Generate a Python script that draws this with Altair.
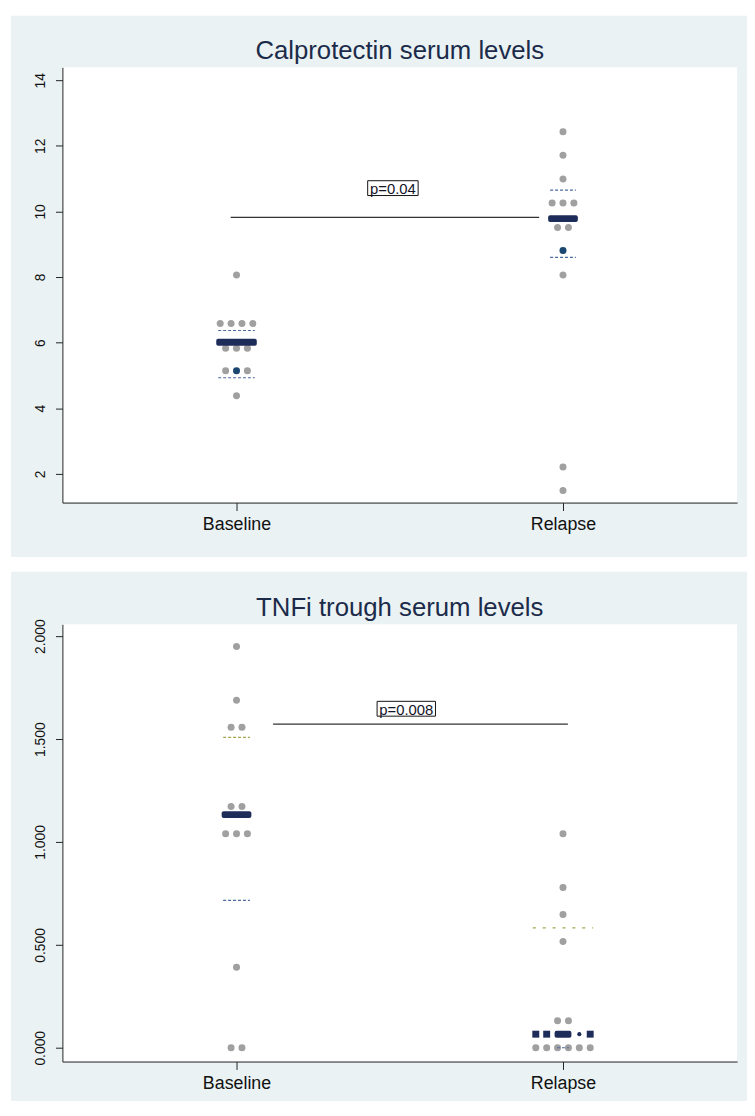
import altair as alt
import pandas as pd

GROUPS = ["Baseline", "Relapse"]

# ---------------- Calprotectin serum levels (panel 1) ----------------
cal_base_vals = [8.06, 6.58, 6.58, 6.58, 6.58, 5.83, 5.83, 5.83, 5.14, 5.14, 5.14, 4.38]
cal_base_slot = [0, -1.5, -0.5, 0.5, 1.5, -1, 0, 1, -1, 0, 1, 0]
cal_base_kind = ["grey"] * 9 + ["navy"] + ["grey"] * 2
cal_rel_vals = [12.43, 11.71, 10.99, 10.26, 10.26, 10.26, 9.51, 9.51, 8.81, 8.06, 2.21, 1.49]
cal_rel_slot = [0, 0, 0, -1, 0, 1, -0.5, 0.5, 0, 0, 0, 0]
cal_rel_kind = ["grey"] * 8 + ["navy"] + ["grey"] * 3
cal_medians = [6.01, 9.78]
cal_q_upper = [6.37, 10.65]
cal_q_lower = [4.93, 8.60]
cal_p_text = "p=0.04"
cal_p_line = [0.982, 1.927, 9.82]    # from, to, level
cal_p_label = [1.479, 10.71]

# ---------------- TNFi trough serum levels (panel 2) ----------------
tnf_base_vals = [1.950, 1.689, 1.558, 1.558, 1.172, 1.172, 1.040, 1.040, 1.040, 0.391, 0.0, 0.0]
tnf_base_slot = [0, 0, -0.5, 0.5, -0.5, 0.5, -1, 0, 1, 0, -0.5, 0.5]
tnf_base_kind = ["grey"] * 12
tnf_rel_vals = [1.040, 0.779, 0.648, 0.516, 0.131, 0.131, 0.0, 0.0, 0.0, 0.0, 0.0, 0.0]
tnf_rel_slot = [0, 0, 0, 0, -0.5, 0.5, -2.5, -1.5, -0.5, 0.5, 1.5, 2.5]
tnf_rel_kind = ["grey"] * 12
tnf_med_row_vals = [0.066, 0.066, 0.066]
tnf_med_row_slot = [-2.5, -1.5, 2.5]
tnf_med_dot = [0.066, 1.5]
tnf_medians = [1.133, 0.066]
tnf_q_upper = [1.508, 0.583]
tnf_q_lower = [0.716, 0.0]
tnf_p_text = "p=0.008"
tnf_p_line = [1.112, 2.015, 1.573]
tnf_p_label = [1.52, 1.6475]

# ---------------- styles ----------------
BG = "#eaf2f3"
GREY = "#a0a0a0"
NAVY = "#1a476f"
DKNAVY = "#1e2c5a"
BLUE_DASH = "#4a6aa0"
OLIVE_DASH = "#a3a64e"
TITLE_C = "#1c2b4a"
FONT = "Liberation Sans"
W = 682
SLOT = 1.0 / 30.0
XS = alt.Scale(domain=[0.4667, 2.5333], nice=False, zero=False)

label_expr = "['" + GROUPS[0] + "','" + GROUPS[1] + "'][datum.value - 1]"


def points_df(bv, bs, bk, rv, rs, rk):
    g = [1] * len(bv) + [2] * len(rv)
    return pd.DataFrame({"g": g, "v": bv + rv, "slot": bs + rs, "kind": bk + rk})


def panel(title, pts, ydom, yticks, yfmt, height, top_ext, bot_ext, medians, med_w,
          qup, qup_w, qup_c, qlo, qlo_w, qlo_c, p_text, p_line, p_label, box_w, extra=None):
    ys = alt.Scale(domain=ydom, nice=False, zero=False)
    xaxis = alt.Axis(values=[1, 2], labelExpr=label_expr, title=None, grid=False,
                     tickSize=8, tickColor="#222", domainColor="#222", labelColor="#111",
                     labelFont=FONT, labelFontSize=18, labelPadding=5, zindex=1)
    yaxis = alt.Axis(values=yticks, format=yfmt, title=None, grid=False, tickSize=7,
                     tickColor="#222", domainColor="#222", labelColor="#111",
                     labelFont=FONT, labelFontSize=14, labelAngle=270, labelAlign="center",
                     labelBaseline="bottom", labelPadding=8, zindex=1)

    def X(f):
        return alt.X(f, scale=XS, axis=xaxis)

    def Y(f):
        return alt.Y(f, scale=ys, axis=yaxis)

    one = pd.DataFrame({"k": [0]})
    bg = alt.Chart(one).mark_rect(color=BG).encode(
        x=alt.value(-52), x2=alt.value(W + 10), y=alt.value(-top_ext),
        y2=alt.value(height + bot_ext))
    plot_bg = alt.Chart(one).mark_rect(color="white").encode(
        x=alt.value(0), x2=alt.value(W), y=alt.value(0), y2=alt.value(height))
    ttl = alt.Chart(one).mark_text(text=title, font=FONT, fontSize=26, color=TITLE_C,
                                   align="center", baseline="alphabetic").encode(
        x=alt.value(W / 2), y=alt.value(-8))

    dots = alt.Chart(pts).transform_calculate(
        xpos="datum.g + datum.slot * " + str(SLOT)
    ).mark_circle(size=50, opacity=1).encode(
        x=X("xpos:Q"),
        y=Y("v:Q"),
        color=alt.Color("kind:N", scale=alt.Scale(domain=["grey", "navy"], range=[GREY, NAVY]),
                        legend=None),
    )

    layers = [bg, plot_bg, ttl, dots]

    if extra is not None:
        layers += extra(X, Y)

    def hline(g, v, w, color, dash):
        d = pd.DataFrame({"g": [g], "v": [v]})
        return alt.Chart(d).mark_point(shape="M-1,0L1,0", filled=False, color=color,
                                       strokeWidth=1.2, strokeDash=dash, size=w * w,
                                       opacity=1).encode(x=X("g:Q"), y=Y("v:Q"))

    for i in range(2):
        udash = [3, 7] if (i == 1 and qup_c == OLIVE_DASH) else [3, 2]
        layers.append(hline(i + 1, qup[i], qup_w[i], qup_c, udash))
        layers.append(hline(i + 1, qlo[i], qlo_w[i], qlo_c, [3, 2]))

    for i in range(2):
        d = pd.DataFrame({"g": [i + 1], "v": [medians[i]]})
        layers.append(alt.Chart(d).mark_tick(orient="horizontal", thickness=7, size=med_w[i],
                                             color=DKNAVY, cornerRadius=2, opacity=1).encode(
            x=X("g:Q"), y=Y("v:Q")))

    pl = pd.DataFrame({"x1": [p_line[0]], "x2": [p_line[1]], "y": [p_line[2]]})
    layers.append(alt.Chart(pl).mark_rule(color="#333", strokeWidth=1.2).encode(
        x=X("x1:Q"), x2="x2:Q", y=Y("y:Q")))

    lab = pd.DataFrame({"x": [p_label[0]], "y": [p_label[1]], "t": [p_text]})
    h = 15.0 / box_w
    box_path = "M-1,-{h}L1,-{h}L1,{h}L-1,{h}Z".format(h=round(h, 4))
    layers.append(alt.Chart(lab).mark_point(shape=box_path, filled=False, color="#111",
                                            strokeWidth=1, size=box_w * box_w, opacity=1).encode(
        x=X("x:Q"), y=Y("y:Q")))
    layers.append(alt.Chart(lab).mark_text(font=FONT, fontSize=15, color="#15152a",
                                           align="center", baseline="middle", dy=1).encode(
        x=X("x:Q"), y=Y("y:Q"), text="t:N"))

    return alt.layer(*layers).properties(width=W, height=height)


cal_pts = points_df(cal_base_vals, cal_base_slot, cal_base_kind,
                    cal_rel_vals, cal_rel_slot, cal_rel_kind)
tnf_pts = points_df(tnf_base_vals, tnf_base_slot, tnf_base_kind,
                    tnf_rel_vals, tnf_rel_slot, tnf_rel_kind)


def tnf_extra(X, Y):
    sq = pd.DataFrame({"g": [2] * len(tnf_med_row_vals), "v": tnf_med_row_vals,
                       "slot": tnf_med_row_slot})
    squares = alt.Chart(sq).transform_calculate(
        xpos="datum.g + datum.slot * " + str(SLOT)
    ).mark_square(size=49, color=DKNAVY, opacity=1).encode(x=X("xpos:Q"), y=Y("v:Q"))
    dd = pd.DataFrame({"g": [2], "v": [tnf_med_dot[0]], "slot": [tnf_med_dot[1]]})
    small = alt.Chart(dd).transform_calculate(
        xpos="datum.g + datum.slot * " + str(SLOT)
    ).mark_circle(size=18, color=DKNAVY, opacity=1).encode(x=X("xpos:Q"), y=Y("v:Q"))
    return [squares, small]


p1 = panel("Calprotectin serum levels", cal_pts, [1.124, 14.393], [2, 4, 6, 8, 10, 12, 14], "d",
           440, 52, 55, cal_medians, [41, 30], cal_q_upper, [37, 26], BLUE_DASH,
           cal_q_lower, [37, 26], BLUE_DASH, cal_p_text, cal_p_line, cal_p_label, 51)

p2 = panel("TNFi trough serum levels", tnf_pts, [-0.067, 2.058], [0, 0.5, 1, 1.5, 2], ".3f",
           442, 53, 40, tnf_medians, [30, 17], tnf_q_upper, [27, 61], OLIVE_DASH,
           tnf_q_lower, [27, 12], BLUE_DASH, tnf_p_text, tnf_p_line, tnf_p_label, 59,
           extra=tnf_extra)

chart = alt.vconcat(p1, p2, spacing=15).properties(
    padding={"left": 3, "top": 2, "right": 0, "bottom": 0},
    background="white",
).configure_view(stroke=None)

chart.save("out.html", embed_options={"renderer": "svg", "actions": False})
